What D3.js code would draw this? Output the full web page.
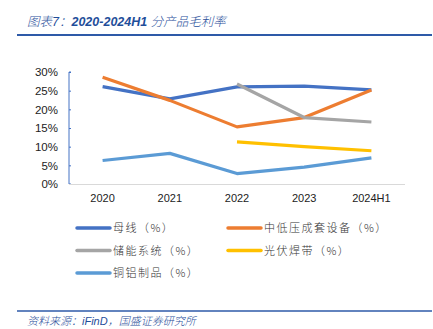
<!DOCTYPE html>
<html>
<head>
<meta charset="utf-8">
<script src="https://cdn.jsdelivr.net/npm/d3@7"></script>
<style>
  body { margin: 0; background: #fff; }
  svg { display: block; font-family: "Liberation Sans", "Noto Sans CJK SC", sans-serif; }
</style>
</head>
<body>
<svg id="chart" width="433" height="329"></svg>
<script>
// categories and margins (%) per product line
var years = ["2020", "2021", "2022", "2023", "2024H1"];
var busbar   = [26.1, 22.8, 26.0, 26.2, 25.2];
var lvSwitch = [28.6, 22.4, 15.3, 17.8, 25.2];
var storage  = [null, null, 26.8, 17.8, 16.6];
var pvRibbon = [null, null, 11.3, 10.0, 8.9];
var cuAl     = [6.3, 8.2, 2.8, 4.5, 7.0];
var yTicks = [0, 5, 10, 15, 20, 25, 30];

var series = [
  { name: "母线（%）", values: busbar, color: "#4472C4" },
  { name: "中低压成套设备（%）", values: lvSwitch, color: "#ED7D31" },
  { name: "储能系统（%）", values: storage, color: "#A5A5A5" },
  { name: "光伏焊带（%）", values: pvRibbon, color: "#FFC000" },
  { name: "铜铝制品（%）", values: cuAl, color: "#5B9BD5" }
];

var svg = d3.select("#chart");
var cjk = "\"Noto Sans CJK SC\", sans-serif";
var titleBlue = "#1F4E9A";

// header
var title = svg.append("text")
    .attr("x", 27).attr("y", 26)
    .attr("fill", titleBlue)
    .attr("font-size", 12.5)
    .attr("font-style", "italic")
    .attr("font-family", "\"Liberation Sans\", \"Noto Sans CJK SC\", sans-serif");
title.append("tspan").attr("font-weight", 300).text("图表7：");
title.append("tspan").attr("font-weight", "bold").text("2020-2024H1 ");
title.append("tspan").attr("font-weight", 300).text("分产品毛利率");
svg.append("line")
    .attr("x1", 17).attr("x2", 432).attr("y1", 35).attr("y2", 35)
    .attr("stroke", "#2E5AA8").attr("stroke-width", 2);

var x = d3.scaleBand().domain(years).range([69, 405]);
var y = d3.scaleLinear().domain([0, 30]).range([184, 72]);

// y axis
var yAxis = svg.append("g")
    .attr("transform", "translate(69,0)")
    .call(d3.axisRight(y).tickValues(yTicks).tickSize(2).tickFormat(function(d) { return d + "%"; }));
yAxis.select(".domain").attr("stroke", "#4472C4").attr("d", "M2,72H0V184H2");
yAxis.selectAll(".tick line").attr("stroke", "#4472C4");
yAxis.selectAll(".tick text")
    .attr("x", -11).attr("text-anchor", "end")
    .attr("font-size", 11.5).attr("fill", "#222")
    .attr("font-family", "\"Liberation Sans\", sans-serif");

// x axis
var xAxis = svg.append("g")
    .attr("transform", "translate(0,184)")
    .call(d3.axisBottom(x).tickSize(0).tickPadding(10));
xAxis.select(".domain").attr("stroke", "#D9D9D9").attr("d", "M69,0.5H405");
xAxis.selectAll(".tick text")
    .attr("font-size", 11).attr("fill", "#222")
    .attr("font-family", "\"Liberation Sans\", sans-serif");

// lines
var line = d3.line()
    .defined(function(d) { return d != null; })
    .x(function(d, i) { return x(years[i]) + x.bandwidth() / 2; })
    .y(function(d) { return y(d); });

svg.append("g").selectAll("path")
    .data(series)
    .enter().append("path")
      .attr("d", function(s) { return line(s.values); })
      .attr("fill", "none")
      .attr("stroke", function(s) { return s.color; })
      .attr("stroke-width", 3.2)
      .attr("stroke-linejoin", "round");

// legend, two columns
var legend = svg.append("g").selectAll("g")
    .data(series)
    .enter().append("g")
      .attr("transform", function(d, i) {
        return "translate(" + (i % 2 ? 228 : 77) + "," + (228 + Math.floor(i / 2) * 22.5) + ")";
      });
legend.append("line")
    .attr("x1", 0).attr("x2", 33)
    .attr("stroke", function(d) { return d.color; })
    .attr("stroke-width", 3.5).attr("stroke-linecap", "round");
legend.append("text")
    .attr("x", 36).attr("y", 4)
    .attr("font-size", 11).attr("fill", "#333")
    .attr("font-weight", 300)
    .attr("font-family", cjk)
    .attr("letter-spacing", 1.5)
    .text(function(d) { return d.name; });

// footer
svg.append("line")
    .attr("x1", 17).attr("x2", 432).attr("y1", 311).attr("y2", 311)
    .attr("stroke", "#2E5AA8").attr("stroke-width", 1.5);
svg.append("text")
    .attr("x", 27).attr("y", 325)
    .attr("fill", titleBlue)
    .attr("font-size", 11)
    .attr("font-style", "italic")
    .attr("font-weight", 300)
    .attr("font-family", "\"Liberation Sans\", \"Noto Sans CJK SC\", sans-serif")
    .text("资料来源：iFinD，国盛证券研究所");
</script>
</body>
</html>
